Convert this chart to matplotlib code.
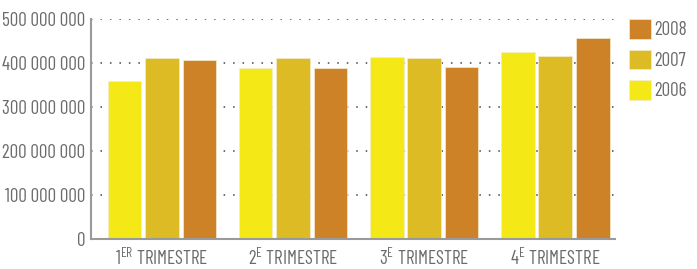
import matplotlib
matplotlib.use('Agg')
import matplotlib.pyplot as plt
import numpy as np
from matplotlib.patches import Patch

trimestres = ['1$^{\\mathrm{ER}}$ TRIMESTRE', '2$^{\\mathrm{E}}$ TRIMESTRE',
              '3$^{\\mathrm{E}}$ TRIMESTRE', '4$^{\\mathrm{E}}$ TRIMESTRE']
annees = ['2006', '2007', '2008']
v2006 = [359e6, 389e6, 414e6, 425e6]
v2007 = [412e6, 412e6, 411e6, 417e6]
v2008 = [406e6, 388e6, 392e6, 457e6]
couleurs = ['#f4e817', '#dcbb25', '#cd8228']
yticks = [0, 100e6, 200e6, 300e6, 400e6, 500e6]

police = ['Barlow Condensed', 'Roboto Condensed', 'DejaVu Sans']
plt.rcParams['font.family'] = police
plt.rcParams['mathtext.fontset'] = 'custom'
plt.rcParams['mathtext.rm'] = police[0]
gris = '#6b6b6b'
taille = 13.7

fig = plt.figure(figsize=(6.97, 2.69), dpi=100)
ax = fig.add_axes([91/697, 30/269, 524/697, 220/269])

x = np.arange(len(trimestres))
largeur = 0.257
pas = 0.286
series = [v2006, v2007, v2008]
for i, vals in enumerate(series):
    ax.bar(x + (i - 1) * pas, vals, largeur, color=couleurs[i],
           edgecolor='#f3ecd0', linewidth=0.5, zorder=2)

ax.set_xlim(-0.542, 3.456)
ax.set_ylim(0, 500e6)
ax.set_yticks(yticks)
ax.set_yticklabels(['{:,.0f}'.format(v).replace(',', ' ') for v in yticks])
ax.set_xticks(x)
ax.set_xticklabels(trimestres)
ax.tick_params(length=0, labelsize=taille, colors=gris, pad=4.3)
ax.tick_params(axis='x', pad=6)

ax.yaxis.grid(True, linestyle=(0, (1, 5.2)), color='#444444', linewidth=1.1, zorder=0)
for s in ['top', 'right']:
    ax.spines[s].set_visible(False)
for s in ['left', 'bottom']:
    ax.spines[s].set_color('#9a9a9a')
    ax.spines[s].set_linewidth(1.5)

handles = [Patch(facecolor=couleurs[i], edgecolor='#f3ecd0', linewidth=0.5) for i in (2, 1, 0)]
labels = [annees[i] for i in (2, 1, 0)]
leg = fig.legend(handles, labels, loc='upper left', bbox_to_anchor=(629/697, 1 - 19/269),
                 frameon=False, fontsize=taille, handlelength=1.15, handleheight=1.2,
                 labelspacing=0.55, handletextpad=0.2, borderaxespad=0, borderpad=0)
for t in leg.get_texts():
    t.set_color(gris)

fig.savefig('out.png', dpi=100)
